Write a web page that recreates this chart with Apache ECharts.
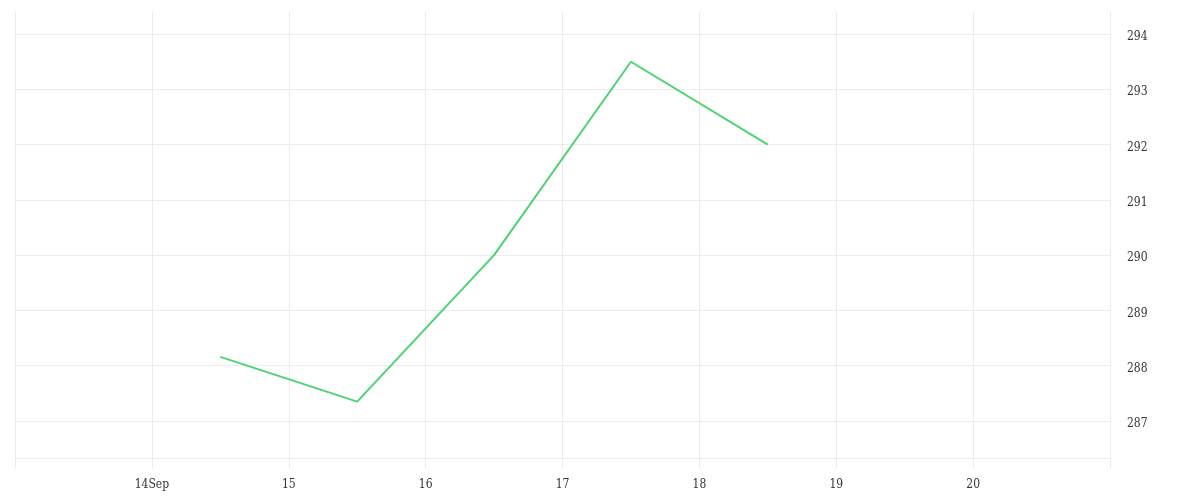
<!DOCTYPE html>
<html>
<head>
<meta charset="utf-8">
<script src="https://cdn.jsdelivr.net/npm/echarts@6/dist/echarts.min.js"></script>
<style>
  html, body { margin: 0; padding: 0; background: #ffffff; }
  #chart { width: 1200px; height: 500px; }
</style>
</head>
<body>
<div id="chart"></div>
<script>
// Data (dates in UTC)
var pointDates = ['2021-09-14T12:00:00Z', '2021-09-15T12:00:00Z', '2021-09-16T12:00:00Z', '2021-09-17T12:00:00Z', '2021-09-18T12:00:00Z'];
var pointValues = [288.16, 287.35, 290.0, 293.5, 292.0];
var tickDays = [14, 15, 16, 17, 18, 19, 20];
var tickLabels = ['14Sep', '15', '16', '17', '18', '19', '20'];
var xStart = '2021-09-13T00:00:00Z';
var xEnd = '2021-09-21T00:00:00Z';
var yMin = 286.33;
var yMax = 294.4;

var DAY = 86400000;
var seriesData = pointDates.map(function (d, i) { return [Date.parse(d), pointValues[i]]; });

var chart = echarts.init(document.getElementById('chart'), null, { renderer: 'canvas' });
var fontFamily = '"DejaVu Serif Condensed", "DejaVu Serif", serif';
var gridColor = '#ececec';

chart.setOption({
  animation: false,
  backgroundColor: '#ffffff',
  grid: { left: 15, right: 90, top: 12, bottom: 42, containLabel: false },
  xAxis: {
    type: 'value',
    position: 'bottom',
    min: Date.parse(xStart),
    max: Date.parse(xEnd),
    interval: DAY,
    axisLine: { show: true, lineStyle: { color: gridColor, width: 1 } },
    axisTick: { show: true, inside: false, length: 10, lineStyle: { color: gridColor, width: 1 } },
    splitLine: { show: true, lineStyle: { color: gridColor, width: 1 } },
    axisLabel: {
      show: true,
      margin: 21,
      color: '#333333',
      fontFamily: fontFamily,
      fontSize: 12,
      formatter: function (val) {
        var d = new Date(val);
        var k = tickDays.indexOf(d.getUTCDate());
        return k >= 0 ? tickLabels[k] : '';
      }
    }
  },
  yAxis: {
    type: 'value',
    position: 'right',
    min: yMin,
    max: yMax,
    splitNumber: 8,
    axisLine: { show: false },
    axisTick: { show: false },
    splitLine: { show: true, showMaxLine: false, lineStyle: { color: gridColor, width: 1 } },
    axisLabel: {
      show: true,
      showMinLabel: false,
      showMaxLabel: false,
      margin: 17,
      color: '#333333',
      fontFamily: fontFamily,
      fontSize: 12,
      formatter: function (v) { return Math.abs(v - Math.round(v)) < 1e-6 ? '{a|' + Math.round(v) + '}' : ''; },
      rich: {
        a: { color: '#333333', fontFamily: fontFamily, fontSize: 12, padding: [6, 0, 0, 0] }
      }
    }
  },
  series: [{
    type: 'line',
    data: seriesData,
    showSymbol: false,
    symbol: 'none',
    lineStyle: { color: '#4ed372', width: 2 },
    itemStyle: { color: '#4ed372' }
  }]
});
</script>
</body>
</html>
